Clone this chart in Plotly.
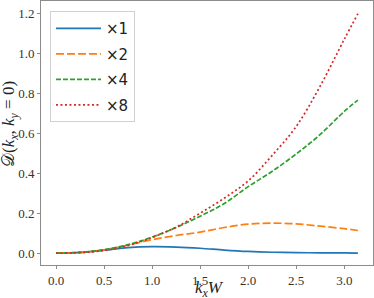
import plotly.graph_objects as go

kx = [0.0, 0.25, 0.5, 0.75, 1.0, 1.25, 1.5, 1.75, 2.0, 2.25, 2.5, 2.75, 3.0, 3.1416]
d_x1 = [0.0, 0.003, 0.014, 0.027, 0.032, 0.030, 0.024, 0.015, 0.008, 0.004, 0.002, 0.001, 0.0005, 0.0]
d_x2 = [0.0, 0.003, 0.016, 0.040, 0.067, 0.088, 0.105, 0.128, 0.145, 0.150, 0.146, 0.135, 0.122, 0.113]
d_x4 = [0.0, 0.003, 0.017, 0.042, 0.080, 0.128, 0.185, 0.248, 0.333, 0.410, 0.497, 0.595, 0.710, 0.767]
d_x8 = [0.0, 0.002, 0.013, 0.038, 0.078, 0.130, 0.200, 0.275, 0.362, 0.490, 0.635, 0.838, 1.072, 1.200]
names = ["×1", "×2", "×4", "×8"]
colors = ["#1f77b4", "#ff7f0e", "#2ca02c", "#d62728"]
dashes = ["solid", "8px,3px", "5px,2px", "2px,2.5px"]
xticks = [0.0, 0.5, 1.0, 1.5, 2.0, 2.5, 3.0]
yticks = [0.0, 0.2, 0.4, 0.6, 0.8, 1.0, 1.2]

SERIF = "Liberation Serif"

fig = go.Figure()
for i, (ys, nm) in enumerate(zip([d_x1, d_x2, d_x4, d_x8], names)):
    fig.add_trace(go.Scatter(
        x=kx, y=ys, name=nm, mode="lines", legendgroup=str(i),
        line=dict(color=colors[i], width=1.7, dash=dashes[i], shape="spline", smoothing=1.0),
    ))

axis_common = dict(
    showgrid=False, zeroline=False, showline=True, linecolor="#8c8c8c", linewidth=1,
    mirror=True, ticks="outside", ticklen=3, tickwidth=1, tickcolor="#8c8c8c",
    tickfont=dict(family=SERIF, size=13, color="#333"), automargin=False,
)
fig.update_layout(
    width=374, height=298,
    margin=dict(l=41, r=1, t=1, b=33),
    paper_bgcolor="white", plot_bgcolor="white",
    showlegend=True,
    legend=dict(
        x=0.027, y=0.962, xanchor="left", yanchor="top",
        bgcolor="rgba(255,255,255,0.8)", bordercolor="#d0d0d0", borderwidth=1,
        font=dict(family="DejaVu Sans", size=15, color="#222"),
        tracegroupgap=3, traceorder="grouped", itemwidth=45,
    ),
    xaxis=dict(axis_common, range=[-0.157, 3.299], tickvals=xticks,
               ticktext=["%.1f" % v for v in xticks]),
    yaxis=dict(axis_common, range=[-0.06, 1.264], tickvals=yticks,
               ticktext=["%.1f" % v for v in yticks]),
    annotations=[
        dict(text="<i>k</i><sub><i>x</i></sub><i>W</i>", xref="paper", yref="paper",
             x=(209 - 41) / 332, y=-(289 - 265) / 264, xanchor="center", yanchor="middle",
             showarrow=False, font=dict(family=SERIF, size=17, color="#222")),
        dict(text="𝒟(<i>k</i><sub><i>x</i></sub>, <i>k</i><sub><i>y</i></sub> = 0)", xref="paper", yref="paper",
             x=(10 - 41) / 332, y=(265 - 124) / 264, xanchor="center", yanchor="middle", textangle=-90,
             showarrow=False, font=dict(family=SERIF, size=17, color="#222")),
    ],
)
fig.write_html("out.html", config={"displayModeBar": False},
               post_script="document.body.style.margin='0';document.body.style.padding='0';")
